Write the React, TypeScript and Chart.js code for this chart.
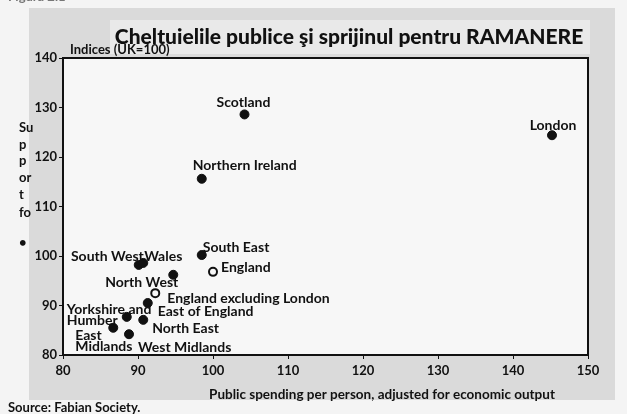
import React, { useEffect, useRef } from "react";
import { Chart, registerables } from "chart.js";

Chart.register(...registerables);

const regionNames = [
  "Scotland",
  "London",
  "Northern Ireland",
  "South East",
  "North West",
  "South West",
  "Wales",
  "East of England",
  "Yorkshire and Humber",
  "North East",
  "East Midlands",
  "West Midlands",
];
const regionSpending = [104.2, 145.2, 98.5, 98.5, 94.7, 90.1, 90.7, 91.3, 88.5, 90.7, 86.7, 88.8];
const regionSupport = [128.6, 124.4, 115.6, 100.2, 96.2, 98.2, 98.6, 90.5, 87.7, 87.1, 85.5, 84.2];

const englandNames = ["England", "England excluding London"];
const englandSpending = [100.0, 92.3];
const englandSupport = [96.8, 92.5];

const xTicks = [80, 90, 100, 110, 120, 130, 140, 150];
const yTicks = [80, 90, 100, 110, 120, 130, 140];

const titleText = "Cheltuielile publice şi sprijinul pentru RAMANERE";
const xTitleText = "Public spending per person, adjusted for economic output";
const yTitleParts = ["Su", "p", "p", "or", "t", "fo", "•"];
const unitsText = "Indices (UK=100)";
const sourceText = "Source: Fabian Society.";

// label placement (style)
const labelStyle: Record<string, { lines: string[]; dx: number; dy: number; align: CanvasTextAlign }> = {
  Scotland: { lines: ["Scotland"], dx: -1, dy: -12, align: "center" },
  London: { lines: ["London"], dx: 1, dy: -10, align: "center" },
  "Northern Ireland": { lines: ["Northern Ireland"], dx: -9, dy: -13, align: "left" },
  "South East": { lines: ["South East"], dx: 1, dy: -8, align: "left" },
  England: { lines: ["England"], dx: 8, dy: -4, align: "left" },
  "North West": { lines: ["North West"], dx: 5, dy: 8, align: "right" },
  "South West": { lines: ["South West"], dx: 5, dy: -8, align: "right" },
  Wales: { lines: ["Wales"], dx: 1, dy: -6, align: "left" },
  "England excluding London": { lines: ["England excluding London"], dx: 12, dy: 5, align: "left" },
  "East of England": { lines: ["East of England"], dx: 10, dy: 8, align: "left" },
  "Yorkshire and Humber": { lines: ["Yorkshire and", "Humber"], dx: -60, dy: -7, align: "left" },
  "North East": { lines: ["North East"], dx: 9, dy: 9, align: "left" },
  "East Midlands": { lines: ["East", "Midlands"], dx: -38, dy: 8, align: "left" },
  "West Midlands": { lines: ["West Midlands"], dx: 9, dy: 13, align: "left" },
};

const FONT = "Lato, 'Open Sans', sans-serif";

export default function App() {
  const ref = useRef<HTMLCanvasElement | null>(null);

  useEffect(() => {
    if (!ref.current) return;

    const decor = {
      id: "decor",
      beforeDraw(chart: any) {
        const ctx = chart.ctx;
        const a = chart.chartArea;
        ctx.save();
        ctx.fillStyle = "#f4f4f4";
        ctx.fillRect(0, 0, 627, 414);
        ctx.fillStyle = "#dadada";
        ctx.fillRect(29, 8, 586, 392);
        ctx.fillStyle = "#e9e9e9";
        ctx.fillRect(110, 20, 480, 34);
        ctx.fillStyle = "#f7f7f7";
        ctx.fillRect(a.left, a.top, a.right - a.left, a.bottom - a.top);
        ctx.fillStyle = "#f4f4f4";
        ctx.fillRect(0, 120, 29, 140);
        ctx.restore();
      },
      afterDraw(chart: any) {
        const ctx = chart.ctx;
        const a = chart.chartArea;
        const xs = chart.scales.x;
        const ys = chart.scales.y;
        ctx.save();
        ctx.strokeStyle = "#111";
        ctx.lineWidth = 2;
        ctx.strokeRect(a.left, a.top, a.right - a.left, a.bottom - a.top);

        ctx.fillStyle = "#111";
        ctx.textBaseline = "middle";
        // title
        ctx.font = `900 21px ${FONT}`;
        ctx.textAlign = "center";
        ctx.fillText(titleText, 349, 37);
        // units
        ctx.font = `bold 13px ${FONT}`;
        ctx.textAlign = "left";
        ctx.fillText(unitsText, 70, 50);
        // y title fragments
        ctx.font = `bold 13px ${FONT}`;
        const yPos = [128, 145, 161, 178, 195, 213, 243];
        yTitleParts.forEach((t, i) => ctx.fillText(t, 19, yPos[i]));
        // x title
        ctx.font = `bold 13.5px ${FONT}`;
        ctx.textAlign = "center";
        ctx.fillText(xTitleText, 382, 395);
        // source
        ctx.textAlign = "left";
        ctx.font = `bold 13px ${FONT}`;
        ctx.fillText(sourceText, 8, 408);
        ctx.fillStyle = "#777";
        ctx.fillText("Figura 2.1", 8, -3);
        ctx.fillStyle = "#111";

        // point labels
        ctx.font = `bold 14px ${FONT}`;
        const all = [
          ...regionNames.map((n, i) => [n, regionSpending[i], regionSupport[i]] as [string, number, number]),
          ...englandNames.map((n, i) => [n, englandSpending[i], englandSupport[i]] as [string, number, number]),
        ];
        all.forEach(([n, xv, yv]) => {
          const st = labelStyle[n];
          if (!st) return;
          const px = xs.getPixelForValue(xv);
          const py = ys.getPixelForValue(yv);
          ctx.textAlign = st.align;
          st.lines.forEach((line, k) => ctx.fillText(line, px + st.dx, py + st.dy + k * 10.5));
        });
        ctx.restore();
      },
    };

    const chart = new Chart(ref.current, {
      type: "scatter",
      data: {
        datasets: [
          {
            label: "Regions",
            data: regionSpending.map((x, i) => ({ x, y: regionSupport[i] })),
            backgroundColor: "#111",
            borderColor: "#111",
            pointRadius: 4.5,
            pointBorderWidth: 1,
          },
          {
            label: "England",
            data: englandSpending.map((x, i) => ({ x, y: englandSupport[i] })),
            backgroundColor: "#f7f7f7",
            borderColor: "#111",
            pointRadius: 4,
            pointBorderWidth: 2,
          },
        ],
      },
      options: {
        responsive: false,
        animation: false,
        layout: { padding: { left: 30, top: 58, right: 39, bottom: 34 } },
        plugins: { legend: { display: false }, tooltip: { enabled: false } },
        scales: {
          x: {
            type: "linear",
            min: 80,
            max: 150,
            afterFit: (s: any) => {
              s.height = 25;
            },
            afterBuildTicks: (s: any) => {
              s.ticks = xTicks.map((v) => ({ value: v }));
            },
            grid: { drawOnChartArea: false, drawTicks: true, tickLength: 4, color: "#111" },
            border: { display: true, color: "#111", width: 2 },
            ticks: { color: "#111", padding: 4, font: { family: FONT, size: 13, weight: "bold" }, maxRotation: 0 },
          },
          y: {
            type: "linear",
            min: 80,
            max: 140,
            afterFit: (s: any) => {
              s.width = 33;
            },
            afterBuildTicks: (s: any) => {
              s.ticks = yTicks.map((v) => ({ value: v }));
            },
            grid: { drawOnChartArea: false, drawTicks: true, tickLength: 4, color: "#111" },
            border: { display: true, color: "#111", width: 2 },
            ticks: { color: "#111", padding: 2, font: { family: FONT, size: 13, weight: "bold" } },
          },
        },
      },
      plugins: [decor],
    } as any);

    return () => chart.destroy();
  }, []);

  return (
    <div style={{ position: "fixed", left: 0, top: 0, width: 627, height: 414 }}>
      <canvas ref={ref} width={627} height={414} style={{ display: "block", width: 627, height: 414 }} />
    </div>
  );
}
